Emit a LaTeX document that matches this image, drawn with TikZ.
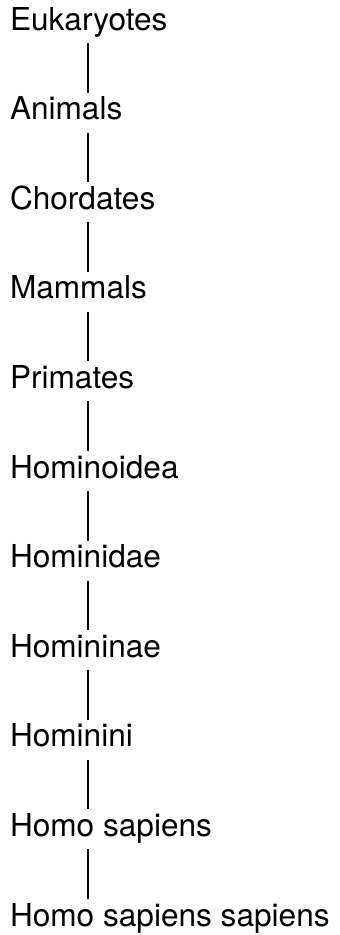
\documentclass[tikz,border=0pt]{standalone}
\usepackage{fontspec}
\setmainfont{TeX Gyre Heros}
\usepackage{tikz}
\usetikzlibrary{positioning}

\begin{document}
\begin{tikzpicture}[x=1pt, y=1pt,
  taxon/.style={anchor=base west, inner sep=0pt, outer sep=0pt,
                font=\fontsize{31.6}{36}\selectfont},
  link/.style={line width=2.2pt, black}
]
\useasboundingbox (0,0) rectangle (340,-935);
% Ranks, top to bottom
\node[taxon] (euk)  at (10,-30)    {Eukaryotes};
\node[taxon] (ani)  at (10,-119.6) {Animals};
\node[taxon] (cho)  at (10,-209.2) {Chordates};
\node[taxon] (mam)  at (10,-298.8) {Mammals};
\node[taxon] (pri)  at (10,-388.4) {Primates};
\node[taxon] (hoid) at (10,-478)   {Hominoidea};
\node[taxon] (hdae) at (10,-567.6) {Hominidae};
\node[taxon] (hnae) at (10,-657.2) {Homininae};
\node[taxon] (hini) at (10,-746.8) {Hominini};
\node[taxon] (hsap) at (10,-836.4) {Homo sapiens};
\node[taxon] (hss)  at (10,-926)   {Homo sapiens sapiens};
% Links
\draw[link] ([shift={(78,-13)}]euk.base west)  -- ([shift={(78,27)}]ani.base west);
\draw[link] ([shift={(78,-13)}]ani.base west)  -- ([shift={(78,27)}]cho.base west);
\draw[link] ([shift={(78,-13)}]cho.base west)  -- ([shift={(78,27)}]mam.base west);
\draw[link] ([shift={(78,-13)}]mam.base west)  -- ([shift={(78,27)}]pri.base west);
\draw[link] ([shift={(78,-13)}]pri.base west)  -- ([shift={(78,27)}]hoid.base west);
\draw[link] ([shift={(78,-13)}]hoid.base west) -- ([shift={(78,27)}]hdae.base west);
\draw[link] ([shift={(78,-13)}]hdae.base west) -- ([shift={(78,27)}]hnae.base west);
\draw[link] ([shift={(78,-13)}]hnae.base west) -- ([shift={(78,27)}]hini.base west);
\draw[link] ([shift={(78,-13)}]hini.base west) -- ([shift={(78,27)}]hsap.base west);
\draw[link] ([shift={(78,-13)}]hsap.base west) -- ([shift={(78,27)}]hss.base west);
\end{tikzpicture}
\end{document}
